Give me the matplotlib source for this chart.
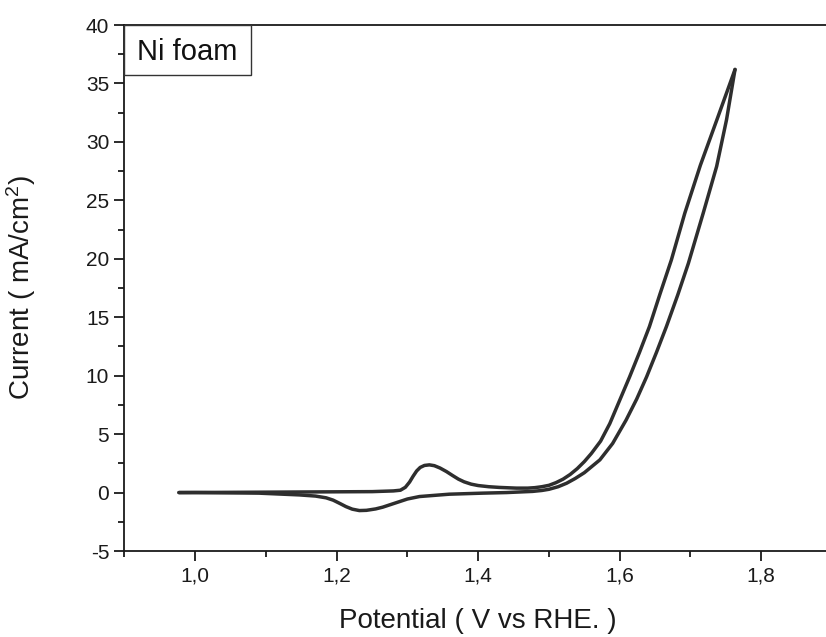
import matplotlib
matplotlib.use("Agg")
import matplotlib.pyplot as plt
from matplotlib.ticker import MultipleLocator, FuncFormatter
from matplotlib.patches import Rectangle

plt.rcParams['font.family'] = ['Liberation Sans', 'DejaVu Sans']
plt.rcParams['mathtext.default'] = 'regular'
plt.rcParams['axes.unicode_minus'] = False

# Anodic sweep: Ni(II)/Ni(III) oxidation peak, then OER onset up to the vertex
anodic_potential = [0.977, 1.05, 1.15, 1.25, 1.28, 1.29, 1.297, 1.303, 1.308,
                    1.313, 1.318, 1.324, 1.331, 1.338, 1.346, 1.355, 1.364,
                    1.372, 1.38, 1.39, 1.40, 1.415, 1.43, 1.454, 1.47, 1.48,
                    1.49, 1.50, 1.51, 1.52, 1.53, 1.54, 1.55, 1.56, 1.573,
                    1.586, 1.60, 1.614, 1.628, 1.642, 1.657, 1.673, 1.692,
                    1.714, 1.738, 1.763]
anodic_current = [0.0, 0.02, 0.05, 0.08, 0.14, 0.2, 0.45, 0.9, 1.4,
                  1.85, 2.15, 2.32, 2.37, 2.3, 2.1, 1.8, 1.45,
                  1.15, 0.92, 0.72, 0.6, 0.5, 0.44, 0.38, 0.38, 0.42,
                  0.5, 0.62, 0.85, 1.15, 1.55, 2.05, 2.65, 3.35, 4.4,
                  5.9, 7.9, 9.9, 12.0, 14.2, 17.0, 19.9, 23.9,
                  28.0, 32.0, 36.2]

# Cathodic sweep: back from the vertex, through the reduction peak
cathodic_potential = [1.763, 1.751, 1.737, 1.718, 1.697, 1.682, 1.666, 1.652,
                      1.638, 1.624, 1.609, 1.59, 1.572, 1.56, 1.55, 1.537,
                      1.525, 1.513, 1.50, 1.49, 1.477, 1.44, 1.406, 1.359,
                      1.317, 1.30, 1.289, 1.275, 1.265, 1.255, 1.242, 1.232,
                      1.222, 1.213, 1.205, 1.195, 1.185, 1.17, 1.147, 1.09,
                      1.0, 0.977]
cathodic_current = [36.2, 31.9, 27.9, 23.9, 19.6, 16.9, 14.2, 12.0,
                    9.9, 8.0, 6.2, 4.2, 2.8, 2.2, 1.7, 1.2,
                    0.8, 0.5, 0.28, 0.18, 0.1, 0.0, -0.05, -0.14,
                    -0.34, -0.55, -0.77, -1.05, -1.25, -1.4, -1.52, -1.54,
                    -1.42, -1.2, -0.95, -0.65, -0.45, -0.3, -0.2, -0.05,
                    0.0, 0.0]

x_ticks = [1.0, 1.2, 1.4, 1.6, 1.8]
y_ticks = [-5, 0, 5, 10, 15, 20, 25, 30, 35, 40]

fig = plt.figure(figsize=(8.26, 6.37), dpi=100)
ax = fig.add_axes([0.1507, 0.1350, 0.8565, 0.8257])

line_color = '#2e2e2e'
for xs, ys in ((anodic_potential, anodic_current),
               (cathodic_potential, cathodic_current)):
    ax.plot(xs, ys, color=line_color, lw=2.5,
            solid_capstyle='round', solid_joinstyle='round')

ax.set_xlim(0.9, 1.9)
ax.set_ylim(-5, 40)
ax.set_xticks(x_ticks)
ax.set_yticks(y_ticks)
ax.xaxis.set_minor_locator(MultipleLocator(0.1))
ax.yaxis.set_minor_locator(MultipleLocator(2.5))
ax.xaxis.set_major_formatter(FuncFormatter(lambda v, p: f"{v:.1f}".replace('.', ',')))

for s in ax.spines.values():
    s.set_linewidth(1.3)
    s.set_color('#1a1a1a')
ax.tick_params(which='major', direction='out', length=7, width=1.3,
               labelsize=15, colors='#1a1a1a', pad=4)
ax.tick_params(which='minor', direction='out', length=4.3, width=1.3,
               colors='#1a1a1a')

ax.set_xlabel('Potential ( V vs RHE. )', fontsize=20, color='#1a1a1a')
ax.set_ylabel('Current ( mA/cm$^{2}$)', fontsize=20, color='#1a1a1a')
ax.xaxis.set_label_coords(0.5, -0.108)
ax.yaxis.set_label_coords(-0.122, 0.5)

box = Rectangle((0.0, 0.905), 0.1788, 0.095, transform=ax.transAxes,
                facecolor='white', edgecolor='#333333', lw=1.0, zorder=5)
ax.add_patch(box)
ax.text(0.089, 0.9335, 'Ni foam', transform=ax.transAxes, fontsize=21,
        ha='center', va='baseline', color='#111111', zorder=6)

fig.savefig('out.png', dpi=100)
